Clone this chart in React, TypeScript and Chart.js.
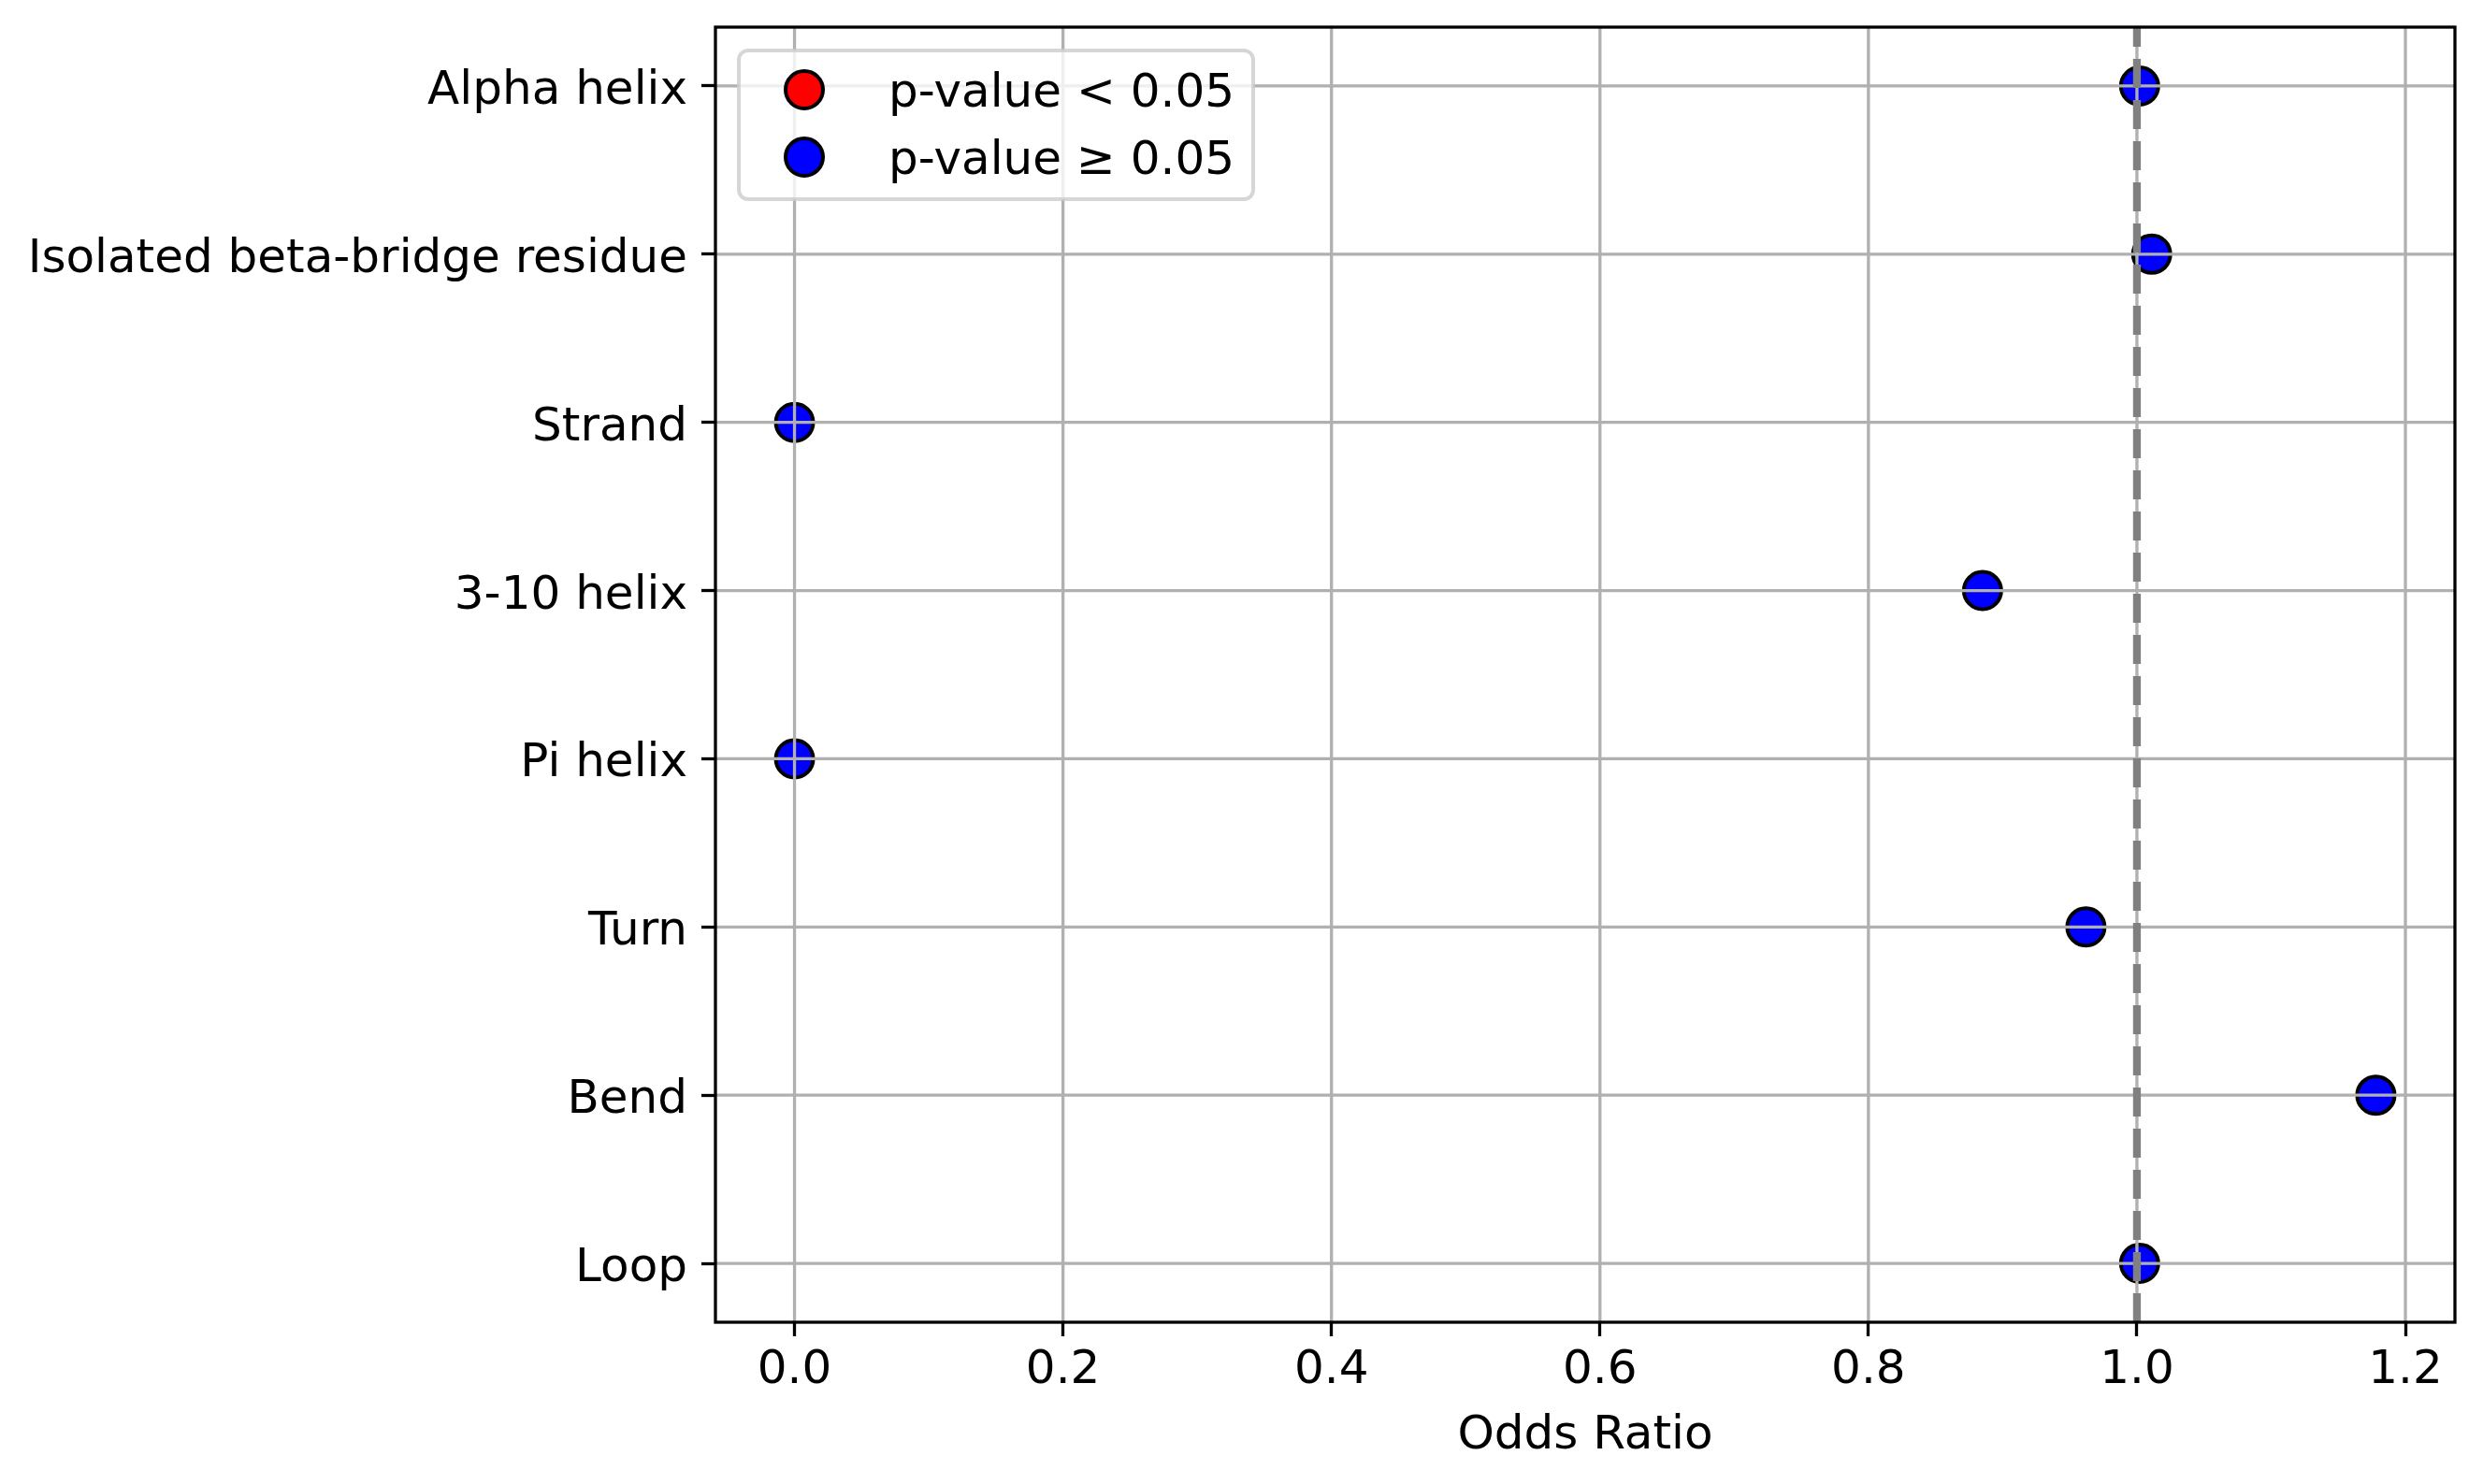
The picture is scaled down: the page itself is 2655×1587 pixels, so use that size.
import { useEffect, useRef } from 'react';
import { Chart, registerables } from 'chart.js';

Chart.register(...registerables);

const categories = [
  'Alpha helix',
  'Isolated beta-bridge residue',
  'Strand',
  '3-10 helix',
  'Pi helix',
  'Turn',
  'Bend',
  'Loop',
];
const oddsRatios = [1.002, 1.011, 0, 0.885, 0, 0.962, 1.178, 1.002];
const significant = [false, false, false, false, false, false, false, false];
const xTickValues = [0, 0.2, 0.4, 0.6, 0.8, 1.0, 1.2];
const legendLabels = ['p-value < 0.05', 'p-value \u2265 0.05'];
const referenceOdds = 1;

const FONT = '"DejaVu Sans", sans-serif';
const FS = 50;

// matplotlib style 5% margins
const xLo = Math.min(...oddsRatios);
const xHi = Math.max(...oddsRatios);
const xMin = xLo - (xHi - xLo) * 0.05;
const xMax = xHi + (xHi - xLo) * 0.05;
const yMargin = (categories.length - 1) * 0.05;

const pointsFor = (sig: boolean) =>
  oddsRatios
    .map((v, i) => ({ x: v, y: i, s: significant[i] }))
    .filter((p) => p.s === sig)
    .map(({ x, y }) => ({ x, y }));

const tickGrid = {
  display: true,
  drawOnChartArea: false,
  drawTicks: true,
  tickLength: 15,
  tickWidth: 3.3,
  tickColor: '#000',
};

const overlayPlugin = {
  id: 'overlay',
  afterDatasetsDraw: (chart: any) => {
    const { ctx, chartArea: a, scales } = chart;
    const xs = scales.x;
    const ys = scales.y;
    ctx.save();

    // grid sits above the markers, as in matplotlib
    ctx.strokeStyle = '#b0b0b0';
    ctx.lineWidth = 3.3;
    ctx.beginPath();
    xs.ticks.forEach((t: any) => {
      const px = xs.getPixelForValue(t.value);
      ctx.moveTo(px, a.top);
      ctx.lineTo(px, a.bottom);
    });
    ys.ticks.forEach((t: any) => {
      const py = ys.getPixelForValue(t.value);
      ctx.moveTo(a.left, py);
      ctx.lineTo(a.right, py);
    });
    ctx.stroke();

    // reference line at OR = 1
    const rx = xs.getPixelForValue(referenceOdds);
    ctx.strokeStyle = '#808080';
    ctx.lineWidth = 8.3;
    ctx.setLineDash([31, 13]);
    ctx.beginPath();
    ctx.moveTo(rx, a.bottom);
    ctx.lineTo(rx, a.top);
    ctx.stroke();
    ctx.setLineDash([]);

    // axes frame
    ctx.strokeStyle = '#000';
    ctx.lineWidth = 3.3;
    ctx.strokeRect(a.left, a.top, a.right - a.left, a.bottom - a.top);

    // legend, upper left
    const sets = chart.data.datasets;
    ctx.font = `${FS}px ${FONT}`;
    const textW = Math.max(...sets.map((d: any) => ctx.measureText(d.label).width));
    const pad = 0.4 * FS;
    const handle = 2 * FS;
    const gap = 0.8 * FS;
    const spacing = 0.5 * FS;
    const rowH = 47;
    const bx = a.left + 0.5 * FS;
    const by = a.top + 0.5 * FS;
    const bw = pad * 2 + handle + gap + textW;
    const bh = pad * 2 + rowH * sets.length + spacing * (sets.length - 1);
    ctx.beginPath();
    ctx.roundRect(bx, by, bw, bh, 10);
    ctx.fillStyle = 'rgba(255,255,255,0.8)';
    ctx.fill();
    ctx.strokeStyle = 'rgba(204,204,204,0.8)';
    ctx.lineWidth = 4;
    ctx.stroke();
    sets.forEach((d: any, i: number) => {
      const cy = by + pad + rowH / 2 + i * (rowH + spacing) - 1.5;
      ctx.beginPath();
      ctx.arc(bx + pad + handle / 2, cy, 20, 0, Math.PI * 2);
      ctx.fillStyle = d.pointBackgroundColor;
      ctx.fill();
      ctx.strokeStyle = '#000';
      ctx.lineWidth = 4;
      ctx.stroke();
      ctx.fillStyle = '#000';
      ctx.textAlign = 'left';
      ctx.textBaseline = 'middle';
      ctx.fillText(d.label, bx + pad + handle + gap, cy + 5);
    });

    ctx.restore();
  },
};

const OddsChart = () => {
  const chartRef = useRef<HTMLCanvasElement>(null);

  useEffect(() => {
    document.body.style.margin = '0';
    const ctx = chartRef.current?.getContext('2d');
    if (!ctx) return;

    Chart.defaults.font.family = FONT;
    Chart.defaults.color = '#000';

    const chart = new Chart(ctx, {
      type: 'scatter',
      data: {
        datasets: [
          {
            label: legendLabels[0],
            data: pointsFor(true),
            pointBackgroundColor: '#ff0000',
            backgroundColor: '#ff0000',
            pointBorderColor: '#000',
            pointBorderWidth: 4,
            pointRadius: 20,
          },
          {
            label: legendLabels[1],
            data: pointsFor(false),
            pointBackgroundColor: '#0000ff',
            backgroundColor: '#0000ff',
            pointBorderColor: '#000',
            pointBorderWidth: 4,
            pointRadius: 20,
          },
        ],
      },
      options: {
        animation: false,
        responsive: false,
        devicePixelRatio: 1,
        events: [],
        layout: { padding: { top: 29, right: 30, left: 0, bottom: 0 } },
        plugins: {
          legend: { display: false },
          tooltip: { enabled: false },
        },
        scales: {
          x: {
            type: 'linear',
            min: xMin,
            max: xMax,
            afterBuildTicks: (s: any) => {
              s.ticks = xTickValues.map((v) => ({ value: v }));
            },
            afterFit: (s: any) => {
              s.height = 173;
              s.paddingLeft = 0;
              s.paddingRight = 0;
              s.paddingTop = 0;
              s.paddingBottom = 0;
            },
            grid: tickGrid,
            border: { display: false },
            ticks: {
              padding: 7,
              autoSkip: false,
              maxRotation: 0,
              color: '#000',
              font: { size: FS, lineHeight: 1.2 },
              callback: (v: any) => Number(v).toFixed(1),
            },
            title: {
              display: true,
              text: 'Odds Ratio',
              color: '#000',
              font: { size: FS, lineHeight: 1.2 },
              padding: { top: 0, bottom: 21 },
            },
          },
          y: {
            type: 'linear',
            reverse: true,
            min: -yMargin,
            max: categories.length - 1 + yMargin,
            afterBuildTicks: (s: any) => {
              s.ticks = categories.map((_, i) => ({ value: i }));
            },
            afterFit: (s: any) => {
              s.width = 765;
              s.paddingLeft = 0;
              s.paddingRight = 0;
              s.paddingTop = 0;
              s.paddingBottom = 0;
            },
            grid: tickGrid,
            border: { display: false },
            ticks: {
              padding: 15,
              autoSkip: false,
              labelOffset: 6,
              color: '#000',
              font: { size: FS },
              callback: (v: any) => categories[v] ?? '',
            },
          },
        },
      },
      plugins: [overlayPlugin],
    });

    return () => {
      chart.destroy();
    };
  }, []);

  return (
    <div style={{ width: 2655, height: 1587, background: '#fff' }}>
      <canvas ref={chartRef} width={2655} height={1587} />
    </div>
  );
};

export default function App() {
  return <OddsChart />;
}
